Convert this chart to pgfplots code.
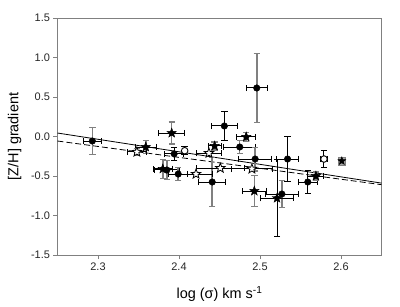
\documentclass[border=0pt]{standalone}
\usepackage{fontspec}
\setmainfont{Liberation Sans}
\usepackage{pgfplots}
\usepackage{pgfplotstable}
\pgfplotsset{compat=1.18}
\pgfdeclareplotmark{star5}{%
  \pgfpathmoveto{\pgfpointpolar{90}{\pgfplotmarksize}}%
  \pgfpathlineto{\pgfpointpolar{126}{0.42\pgfplotmarksize}}%
  \pgfpathlineto{\pgfpointpolar{162}{\pgfplotmarksize}}%
  \pgfpathlineto{\pgfpointpolar{198}{0.42\pgfplotmarksize}}%
  \pgfpathlineto{\pgfpointpolar{234}{\pgfplotmarksize}}%
  \pgfpathlineto{\pgfpointpolar{270}{0.42\pgfplotmarksize}}%
  \pgfpathlineto{\pgfpointpolar{306}{\pgfplotmarksize}}%
  \pgfpathlineto{\pgfpointpolar{342}{0.42\pgfplotmarksize}}%
  \pgfpathlineto{\pgfpointpolar{18}{\pgfplotmarksize}}%
  \pgfpathlineto{\pgfpointpolar{54}{0.42\pgfplotmarksize}}%
  \pgfpathclose
  \pgfusepathqfillstroke}

\pgfplotstableread{
x y ex eyg eyb
2.293 -0.057 0.011 0.17 0
2.385 -0.424 0.015 0.12 0
2.399 -0.475 0.012 0.08 0
2.394 -0.220 0.012 0 0.08
2.441 -0.576 0.017 0.31 0
2.456 0.133 0.016 0 0.18
2.496 0.614 0.013 0.44 0
2.475 -0.133 0.020 0.08 0
2.494 -0.285 0.020 0.15 0
2.534 -0.285 0.014 0 0.29
2.527 -0.728 0.020 0.17 0
2.559 -0.576 0.012 0 0.14
}\fcirc
\pgfplotstableread{
x y ex eyg eyb
2.359 -0.133 0.013 0.08 0
2.391 0.044 0.016 0.14 0
2.380 -0.410 0.012 0.12 0
2.444 -0.120 0.008 0.05 0
2.483 -0.006 0.012 0.06 0
2.493 -0.690 0.015 0.20 0
2.521 -0.780 0.020 0 0.49
2.569 -0.500 0.010 0.05 0
}\fstar
\pgfplotstableread{
x y ex eyg eyb
2.348 -0.196 0.012 0.04 0
2.421 -0.475 0.020 0 0
2.437 -0.210 0.015 0 0
2.451 -0.400 0.030 0 0
2.490 -0.410 0.025 0 0
}\ostar
\pgfplotstableread{
x y ex eyg eyb
2.407 -0.180 0 0 0.05
2.579 -0.285 0.004 0 0.11
}\ocirc
\pgfplotstableread{
x y
2.601 -0.310
}\sqstar

\newcommand\ebars[1]{%
\addplot[only marks, mark=none, black,
  error bars/.cd, x dir=both, x explicit,
  error bar style={black, line width=1pt},
  error mark options={rotate=90, mark size=3.2pt, black, line width=1pt}]
  table[x=x, y=y, x error=ex]{#1};
\addplot[only marks, mark=none, gray,
  error bars/.cd, y dir=both, y explicit,
  error bar style={black!50, line width=1.5pt},
  error mark options={rotate=90, mark size=3.2pt, black!50, line width=1.3pt}]
  table[x=x, y=y, y error=eyg]{#1};
\addplot[only marks, mark=none, black,
  error bars/.cd, y dir=both, y explicit,
  error bar style={black, line width=1pt},
  error mark options={rotate=90, mark size=3.2pt, black, line width=1pt}]
  table[x=x, y=y, y error=eyb]{#1};
}

\begin{document}
\begin{tikzpicture}
\begin{axis}[
  width=324bp, height=237bp, scale only axis,
  xmin=2.25, xmax=2.65, ymin=-1.5, ymax=1.5,
  xtick={2.3,2.4,2.5,2.6},
  ytick={-1.5,-1,-0.5,0,0.5,1,1.5},
  /pgf/number format/assume math mode=true,
  xticklabel style={/pgf/number format/.cd, fixed, fixed zerofill, precision=1},
  yticklabel style={/pgf/number format/.cd, fixed, fixed zerofill, precision=1},
  tick label style={font=\fontsize{11}{13}\selectfont, text=black!85},
  label style={font=\fontsize{14.5}{16}\selectfont},
  axis line style={black!50, line width=0.9pt},
  tick style={black!50, line width=0.7pt},
  tick align=outside, major tick length=4bp,
  xtick pos=lower, ytick pos=left,
  xlabel={log (σ) km s\textsuperscript{-1}},
  ylabel={[Z/H] gradient},
  xlabel style={at={(axis description cs:0.5,-0.165)}, anchor=center},
  ylabel style={at={(axis description cs:-0.132,0.5)}, anchor=center},
  clip=false,
]
% regression lines
\addplot[black, line width=0.8pt, mark=none] coordinates {(2.25,0.044) (2.65,-0.59)};
\addplot[black, line width=0.8pt, dash pattern=on 6pt off 3pt, mark=none] coordinates {(2.25,-0.057) (2.65,-0.61)};

\ebars{\fcirc}
\ebars{\fstar}
\ebars{\ostar}
\ebars{\ocirc}

% markers
\addplot[only marks, mark=*, mark size=3.3pt, mark options={fill=black, draw=black}] table[x=x,y=y]{\fcirc};
\addplot[only marks, mark=star5, mark size=5pt, mark options={fill=black, draw=black, line width=0.4pt}] table[x=x,y=y]{\fstar};
\addplot[only marks, mark=star5, mark size=5pt, mark options={fill=white, draw=black, line width=0.8pt}] table[x=x,y=y]{\ostar};
\addplot[only marks, mark=*, mark size=3.3pt, mark options={fill=white, draw=black, line width=0.9pt}] table[x=x,y=y]{\ocirc};
\addplot[only marks, mark=square*, mark size=3.8pt, mark options={fill=gray!70, draw=gray}] table[x=x,y=y]{\sqstar};
\addplot[only marks, mark=star5, mark size=4.2pt, mark options={fill=black, draw=black}] table[x=x,y=y]{\sqstar};
\end{axis}
\path ([shift={(-57.5bp,-52bp)}]current axis.south west) rectangle ([shift={(18.5bp,18bp)}]current axis.north east);
\end{tikzpicture}
\end{document}
